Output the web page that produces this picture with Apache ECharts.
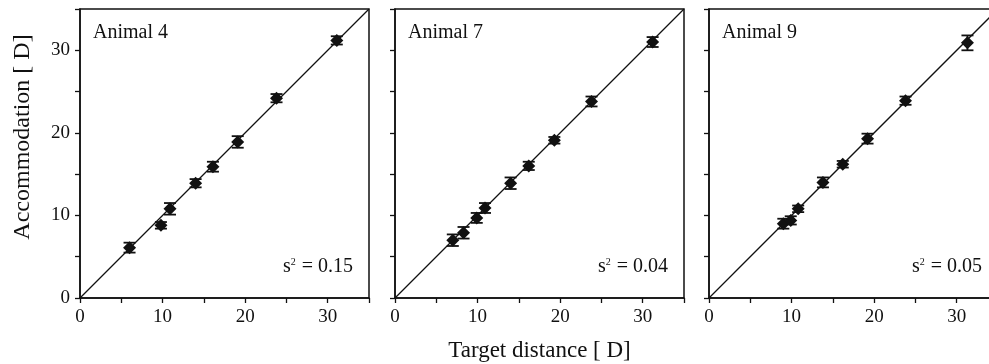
<!DOCTYPE html>
<html>
<head>
<meta charset="utf-8">
<script src="https://cdn.jsdelivr.net/npm/echarts@6/dist/echarts.min.js"></script>
<style>
  html, body { margin: 0; padding: 0; background: #fff; }
  #chart { width: 989px; height: 364px; }
</style>
</head>
<body>
<div id="chart"></div>
<script>
var animals = ['Animal 4', 'Animal 7', 'Animal 9'];
var variances = ['0.15', '0.04', '0.05'];

// target distance [D]
var target4 = [6.0, 9.8, 10.9, 14.0, 16.1, 19.1, 23.8, 31.1];
var target7 = [7.0, 8.3, 9.9, 10.9, 14.0, 16.2, 19.3, 23.8, 31.2];
var target9 = [9.0, 9.9, 10.8, 13.8, 16.2, 19.2, 23.8, 31.3];

// accommodation [D]
var accom4 = [6.1, 8.8, 10.8, 13.9, 15.9, 18.9, 24.2, 31.2];
var accom7 = [7.0, 7.9, 9.7, 10.9, 13.9, 16.0, 19.1, 23.8, 31.0];
var accom9 = [9.0, 9.4, 10.8, 14.0, 16.2, 19.3, 23.9, 30.9];

// error (+/-) [D]
var err4 = [0.6, 0.4, 0.7, 0.5, 0.6, 0.7, 0.5, 0.5];
var err7 = [0.7, 0.7, 0.6, 0.6, 0.7, 0.5, 0.4, 0.6, 0.6];
var err9 = [0.6, 0.5, 0.4, 0.6, 0.4, 0.6, 0.5, 0.9];

var xTicks = [0, 10, 20, 30];
var diag = [[0, 0], [35, 35]];

var chart = echarts.init(document.getElementById('chart'));

var serif = 'Liberation Serif';
var lefts = [80, 395, 709];

function genGrid(i) {
    return {
        left: lefts[i],
        top: 9,
        width: 289,
        height: 289,
        outerBoundsMode: 'none',
        containLabel: false,
        show: true,
        borderColor: '#111',
        borderWidth: 1.5,
        backgroundColor: 'transparent'
    };
}

function genAxis(i, isX) {
    var ax = {
        type: 'value',
        gridIndex: i,
        min: 0,
        max: 35,
        interval: 5,
        axisLine: { show: true, onZero: false, lineStyle: { color: '#111', width: 1.5 } },
        axisTick: { show: true, inside: false, length: 5, lineStyle: { color: '#111', width: 1.3 } },
        splitLine: { show: false },
        axisLabel: {
            show: isX || i === 0,
            color: '#111',
            fontFamily: serif,
            fontSize: 19,
            margin: 10,
            formatter: function (v) {
                return xTicks.indexOf(v) >= 0 ? String(v) : '';
            }
        }
    };
    if (isX && i === 1) {
        ax.name = 'Target distance [ D]';
        ax.nameLocation = 'middle';
        ax.nameGap = 41;
        ax.nameTextStyle = { color: '#111', fontFamily: serif, fontSize: 23 };
    }
    return ax;
}

function errorSeries(i, xs, ys, es) {
    var data = [];
    for (var k = 0; k < xs.length; k++) {
        data.push([xs[k], ys[k] - es[k], ys[k] + es[k]]);
    }
    return {
        type: 'custom',
        xAxisIndex: i,
        yAxisIndex: i,
        data: data,
        z: 3,
        renderItem: function (params, api) {
            var lo = api.coord([api.value(0), api.value(1)]);
            var hi = api.coord([api.value(0), api.value(2)]);
            var w = 6;
            var st = { stroke: '#111', lineWidth: 1.8 };
            return {
                type: 'group',
                children: [
                    { type: 'line', shape: { x1: lo[0], y1: lo[1], x2: hi[0], y2: hi[1] }, style: st },
                    { type: 'line', shape: { x1: lo[0] - w, y1: lo[1], x2: lo[0] + w, y2: lo[1] }, style: st },
                    { type: 'line', shape: { x1: hi[0] - w, y1: hi[1], x2: hi[0] + w, y2: hi[1] }, style: st }
                ]
            };
        }
    };
}

function pointSeries(i, xs, ys) {
    var data = [];
    for (var k = 0; k < xs.length; k++) {
        data.push([xs[k], ys[k]]);
    }
    return {
        type: 'scatter',
        xAxisIndex: i,
        yAxisIndex: i,
        data: data,
        symbol: 'diamond',
        symbolSize: [13, 13],
        itemStyle: { color: '#111', opacity: 1 },
        z: 4
    };
}

function lineSeries(i) {
    return {
        type: 'line',
        xAxisIndex: i,
        yAxisIndex: i,
        data: diag,
        symbol: 'none',
        lineStyle: { color: '#111', width: 1.3 },
        z: 2
    };
}

var titles = [];
for (var i = 0; i < 3; i++) {
    titles.push({
        text: animals[i],
        left: lefts[i] + 8,
        top: 18,
        textStyle: { color: '#111', fontFamily: serif, fontSize: 20, fontWeight: 'normal' }
    });
    titles.push({
        text: '{s|s}{sup|2}{s| = ' + variances[i] + '}',
        left: lefts[i] + 198,
        top: 252,
        textStyle: {
            fontWeight: 'normal',
            rich: {
                s: { color: '#111', fontFamily: serif, fontSize: 20, fontWeight: 'normal' },
                sup: { color: '#111', fontFamily: serif, fontSize: 10, fontWeight: 'normal', verticalAlign: 'top', padding: [0, 1, 8, 0] }
            }
        }
    });
}

var option = {
    animation: false,
    backgroundColor: '#fff',
    title: titles,
    grid: [genGrid(0), genGrid(1), genGrid(2)],
    xAxis: [genAxis(0, true), genAxis(1, true), genAxis(2, true)],
    yAxis: [genAxis(0, false), genAxis(1, false), genAxis(2, false)],
    graphic: [{
        type: 'text',
        x: 23,
        y: 137,
        rotation: Math.PI / 2,
        style: {
            text: 'Accommodation [ D]',
            fill: '#111',
            font: '24px "Liberation Serif"',
            textAlign: 'center',
            textVerticalAlign: 'middle'
        }
    }],
    series: [
        lineSeries(0), errorSeries(0, target4, accom4, err4), pointSeries(0, target4, accom4),
        lineSeries(1), errorSeries(1, target7, accom7, err7), pointSeries(1, target7, accom7),
        lineSeries(2), errorSeries(2, target9, accom9, err9), pointSeries(2, target9, accom9)
    ]
};

chart.setOption(option);
</script>
</body>
</html>
